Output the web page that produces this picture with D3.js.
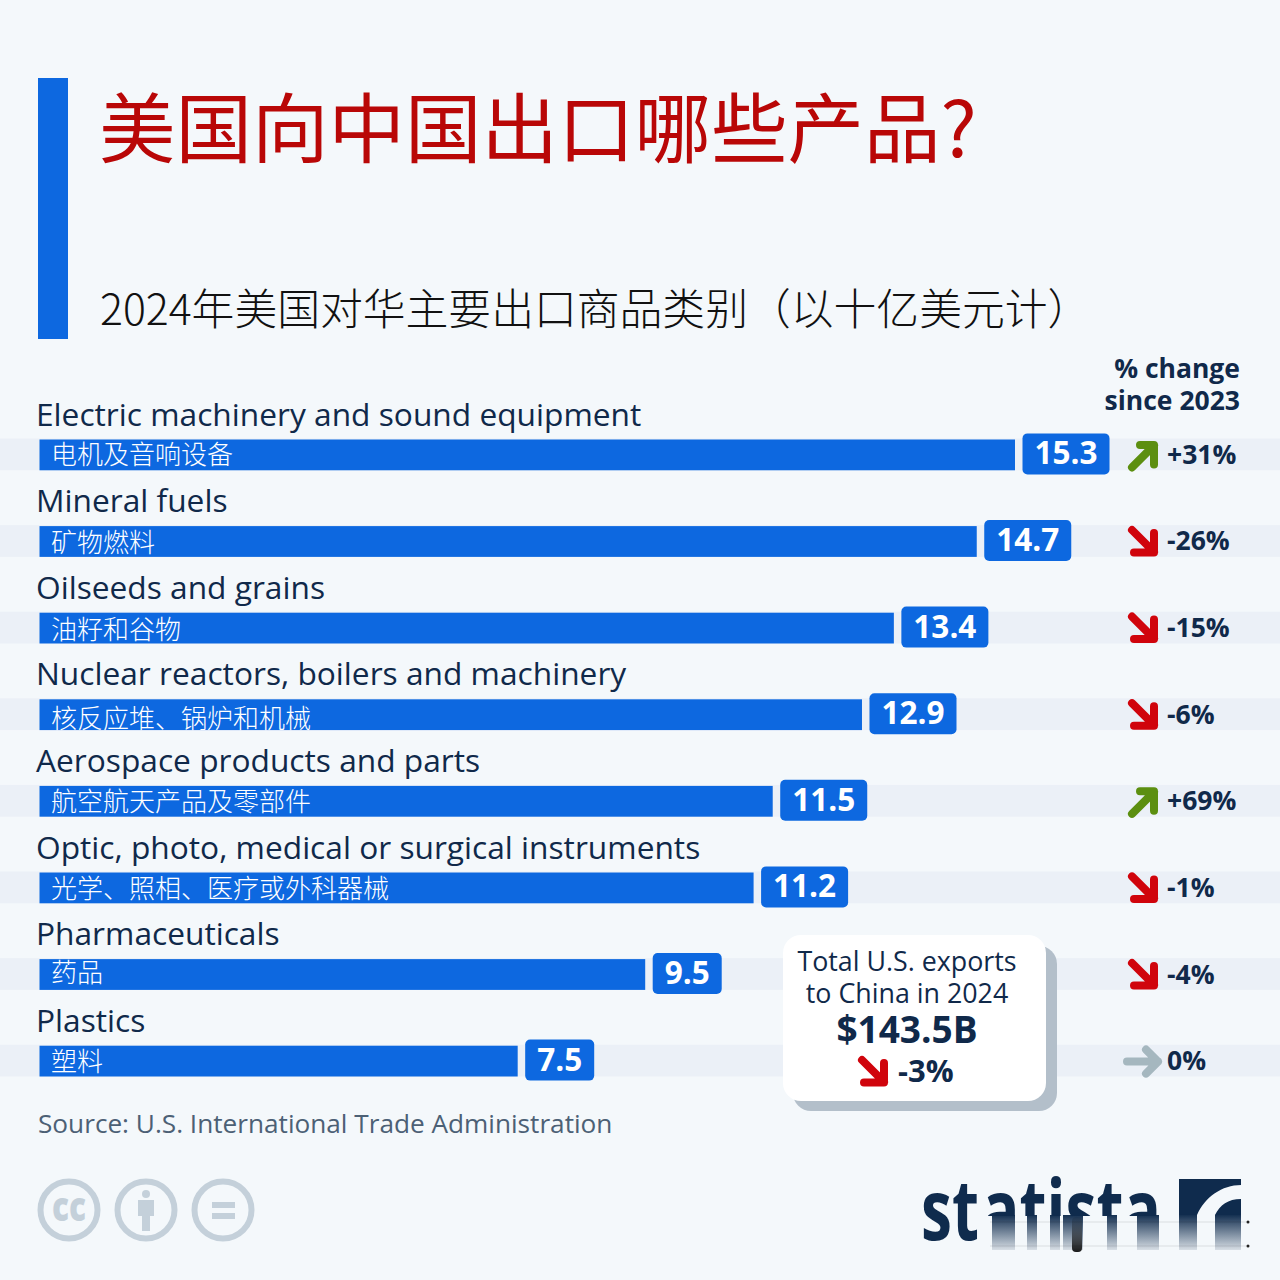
<!DOCTYPE html>
<html><head><meta charset="utf-8">
<script src="https://cdn.jsdelivr.net/npm/d3@7"></script>
<style>html,body{margin:0;padding:0;background:#f4f8fb}svg{display:block}text{font-family:"Open Sans",sans-serif}.zh{font-family:"Noto Sans CJK SC",sans-serif}</style>
</head><body><svg id="c" width="1280" height="1280"></svg>
<script>
const categories = ["Electric machinery and sound equipment","Mineral fuels","Oilseeds and grains","Nuclear reactors, boilers and machinery","Aerospace products and parts","Optic, photo, medical or surgical instruments","Pharmaceuticals","Plastics"];
const categoriesZh = ["电机及音响设备","矿物燃料","油籽和谷物","核反应堆、锅炉和机械","航空航天产品及零部件","光学、照相、医疗或外科器械","药品","塑料"];
const values = [15.3,14.7,13.4,12.9,11.5,11.2,9.5,7.5];
const changes = [31,-26,-15,-6,69,-1,-4,0];
const totalValue = "$143.5B";
const totalChange = -3;

const BLUE="#0d68e0", DARK="#10294a", RED="#d0040c", GREEN="#5c8f10", GREY="#a5b7bf", LOGO="#0f2b4d";
const svg=d3.select("#c");
const zhShift=[1,2,2,5,1,2,-1,1];

svg.append("rect").attr("width",1280).attr("height",1280).attr("fill","#f4f8fb");
svg.append("rect").attr("x",38).attr("y",78).attr("width",30).attr("height",261).attr("fill",BLUE);
svg.append("text").attr("class","zh").attr("x",99).attr("y",157).attr("font-size",76.5).attr("fill","#b90707").text("美国向中国出口哪些产品?");
svg.append("text").attr("class","zh").attr("x",100).attr("y",325).attr("font-size",42.8).attr("font-weight",300).attr("fill","#111").text("2024年美国对华主要出口商品类别\uFF08以十亿美元计\uFF09");

const x=d3.scaleLinear().domain([0,15.3]).range([39.5,1015]);
const y=d3.scaleBand().domain(d3.range(values.length)).range([438.5,1076.5]).paddingInner(0.633).paddingOuter(0);
const cy=i=>y(i)+y.bandwidth()/2;

const rows=svg.selectAll("g.row").data(values).join("g").attr("class","row");
rows.append("rect").attr("x",0).attr("width",1280).attr("y",(d,i)=>y(i)).attr("height",y.bandwidth()).attr("fill","#ebf0f7");
rows.append("rect").attr("x",x(0)).attr("y",(d,i)=>y(i)+1).attr("width",d=>x(d)-x(0)).attr("height",y.bandwidth()-1).attr("fill",BLUE);
rows.append("text").attr("x",36).attr("y",(d,i)=>y(i)-13).attr("font-size",31.7).attr("fill",DARK).text((d,i)=>categories[i]);
rows.append("text").attr("class","zh").attr("x",51).attr("y",(d,i)=>cy(i)+9+zhShift[i]).attr("font-size",26).attr("font-weight",300).attr("fill","#fff").text((d,i)=>categoriesZh[i]);

rows.each(function(d,i){
  const g=d3.select(this);
  const bx=x(d)+7.5;
  const badge=g.append("rect").attr("fill",BLUE).attr("y",cy(i)-21).attr("height",41).attr("x",bx).attr("rx",5);
  const t=g.append("text").attr("x",bx+12).attr("y",cy(i)+10).attr("font-size",31.5).attr("font-weight",700).attr("fill","#fff").text(d.toFixed(1));
  badge.attr("width",t.node().getComputedTextLength()+24);
  arrow(g,1143,cy(i)+1,changes[i]);
  g.append("text").attr("x",1167).attr("y",cy(i)+9.5).attr("font-size",26.5).attr("font-weight",700).attr("fill",DARK).text((changes[i]>0?"+":"")+changes[i]+"%");
});

function arrow(g,cx,cyy,v){
  const p=g.append("path").attr("fill","none").attr("stroke-width",8).attr("stroke-linecap","round").attr("stroke-linejoin","round");
  const l=d3.line();
  if(v>0){p.attr("stroke",GREEN).attr("d",l([[cx-11,cyy+12],[cx+11,cyy-10]])+l([[cx-3,cyy-10.5],[cx+11,cyy-10.5],[cx+11,cyy+9]]));}
  else if(v<0){p.attr("stroke",RED).attr("d",l([[cx-11,cyy-12],[cx+11,cyy+10]])+l([[cx-9,cyy+10.5],[cx+11,cyy+10.5],[cx+11,cyy-9]]));}
  else{p.attr("stroke",GREY).attr("d",l([[cx-16,cyy],[cx+15,cyy]])+l([[cx+3,cyy-12],[cx+15,cyy],[cx+3,cyy+12]]));}
}

svg.append("text").attr("x",1240).attr("y",378).attr("text-anchor","end").attr("font-size",26.5).attr("font-weight",700).attr("fill",DARK).text("% change");
svg.append("text").attr("x",1240).attr("y",410).attr("text-anchor","end").attr("font-size",26.5).attr("font-weight",700).attr("fill",DARK).text("since 2023");

svg.append("rect").attr("x",793).attr("y",946).attr("width",264).attr("height",165).attr("rx",18).attr("fill","#b3bfca");
svg.append("rect").attr("x",783).attr("y",935).attr("width",263).attr("height",166).attr("rx",18).attr("fill","#fff");
svg.append("text").attr("x",907).attr("y",971).attr("text-anchor","middle").attr("font-size",26.8).attr("fill",DARK).text("Total U.S. exports");
svg.append("text").attr("x",907).attr("y",1003).attr("text-anchor","middle").attr("font-size",26.8).attr("fill",DARK).text("to China in 2024");
svg.append("text").attr("x",907).attr("y",1043).attr("text-anchor","middle").attr("font-size",37).attr("font-weight",700).attr("fill",DARK).text(totalValue);
arrow(svg,873,1072,totalChange);
svg.append("text").attr("x",898).attr("y",1082).attr("font-size",31).attr("font-weight",700).attr("fill",DARK).text(totalChange+"%");

svg.append("text").attr("x",38).attr("y",1132.5).attr("font-size",26.2).attr("fill","#4c6075").text("Source: U.S. International Trade Administration");

const CC="#c4d0da";
[69,146,223].forEach(c=>svg.append("circle").attr("cx",c).attr("cy",1210).attr("r",28.5).attr("fill","none").attr("stroke",CC).attr("stroke-width",6));
svg.append("text").attr("x",52).attr("y",1221).attr("font-size",40).attr("font-weight",800).attr("fill",CC).attr("textLength",34).attr("lengthAdjust","spacingAndGlyphs").text("cc");
svg.append("circle").attr("cx",146).attr("cy",1194).attr("r",4).attr("fill",CC);
svg.append("rect").attr("x",138).attr("y",1200).attr("width",16).attr("height",16).attr("fill",CC);
svg.append("rect").attr("x",142).attr("y",1214).attr("width",8).attr("height",17).attr("fill",CC);
svg.append("rect").attr("x",212).attr("y",1202).attr("width",23).attr("height",6).attr("fill",CC);
svg.append("rect").attr("x",212).attr("y",1213).attr("width",23).attr("height",6).attr("fill",CC);

/* statista logo, with the smeared lower part of the reference */
const defs=svg.append("defs");
const gr=defs.append("linearGradient").attr("id","fade").attr("gradientUnits","userSpaceOnUse").attr("x1",0).attr("x2",0).attr("y1",1214).attr("y2",1252);
gr.append("stop").attr("offset",0).attr("stop-color",LOGO);
gr.append("stop").attr("offset",1).attr("stop-color",LOGO).attr("stop-opacity",0.08);
const gk=defs.append("linearGradient").attr("id","smear").attr("gradientUnits","userSpaceOnUse").attr("x1",0).attr("x2",0).attr("y1",1216).attr("y2",1252);
gk.append("stop").attr("offset",0).attr("stop-color","#000").attr("stop-opacity",0.05);
gk.append("stop").attr("offset",1).attr("stop-color","#000").attr("stop-opacity",0.9);
defs.append("clipPath").attr("id","logoTop").append("rect").attr("x",980).attr("y",1170).attr("width",200).attr("height",46);

svg.append("text").attr("x",921).attr("y",1240).attr("font-size",84).attr("font-weight",700).attr("fill",LOGO).attr("textLength",58).attr("lengthAdjust","spacingAndGlyphs").text("st");
svg.append("text").attr("x",982).attr("y",1240).attr("font-size",84).attr("font-weight",700).attr("fill",LOGO).attr("textLength",179).attr("lengthAdjust","spacingAndGlyphs").attr("clip-path","url(#logoTop)").text("atista");
[[992,23],[1027,10],[1050,10],[1063,20],[1107,10],[1137,22],[1179,18],[1215,26]].forEach(s=>
  svg.append("rect").attr("x",s[0]).attr("y",1215).attr("width",s[1]).attr("height",35).attr("fill","url(#fade)"));
svg.append("rect").attr("x",1072).attr("y",1217).attr("width",10).attr("height",35).attr("rx",4).attr("fill","url(#smear)");
svg.append("path").attr("fill",LOGO).attr("d","M1179 1179H1241V1185C1222 1185 1205 1197 1197 1215H1179ZM1241 1199C1228 1199 1220 1205 1215 1215H1241Z");
[1222,1246].forEach(l=>{
  svg.append("rect").attr("x",990).attr("y",l-0.5).attr("width",258).attr("height",1).attr("fill","#000").attr("opacity",0.1);
  svg.append("circle").attr("cx",1248).attr("cy",l).attr("r",1.5).attr("fill","#222");
});
</script></body></html>
